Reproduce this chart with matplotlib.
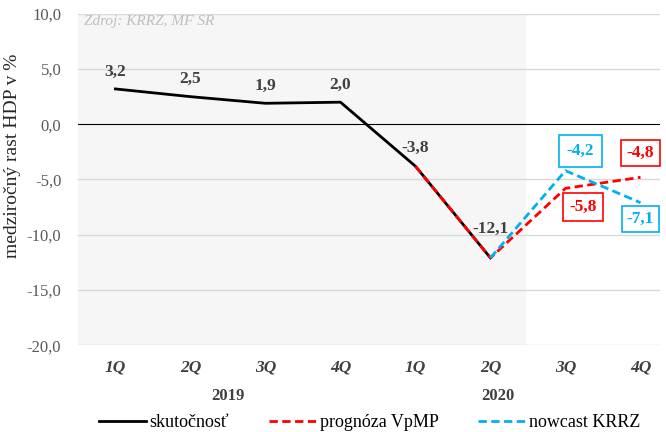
import matplotlib
matplotlib.use("Agg")
import matplotlib.pyplot as plt
from matplotlib.lines import Line2D

plt.rcParams['font.family'] = ['Liberation Serif', 'DejaVu Serif']

quarters = ["1Q", "2Q", "3Q", "4Q", "1Q", "2Q", "3Q", "4Q"]
years = ["2019", "2020"]
actual = [3.2, 2.5, 1.9, 2.0, -3.8, -12.1]
forecast_x = [4, 5, 6, 7]
forecast = [-3.8, -12.1, -5.8, -4.8]
nowcast_x = [5, 6, 7]
nowcast = [-12.1, -4.2, -7.1]

def fmt(v):
    return f"{v:.1f}".replace(".", ",")

fig = plt.figure(figsize=(6.66, 4.32), dpi=100)
ax = fig.add_axes([0.117, 0.201, 0.874, 0.767])

ax.set_xlim(-0.5, 7.26)
ax.set_ylim(-20, 10)
ax.axvspan(-0.5, 5.47, color="#f6f6f6", zorder=0, lw=0)

for y in [-20, -15, -10, -5, 5, 10]:
    ax.axhline(y, color="#d9d9d9", lw=1, zorder=1)
ax.axhline(0, color="black", lw=0.8, zorder=2)

ax.plot(range(len(actual)), actual, color="black", lw=2, zorder=3)
ax.plot(forecast_x, forecast, color="#ff0000", lw=2, ls=(0, (3, 1.6)), zorder=4)
ax.plot(nowcast_x, nowcast, color="#00b0f0", lw=2, ls=(0, (3, 1.6)), zorder=4)

dark = "#404040"
offs = [(0, 1.5), (0, 1.6), (0, 1.6), (0, 1.6), (0.0, 1.7), (0.0, 2.6)]
for i, v in enumerate(actual):
    dx, dy = offs[i]
    ax.text(i + dx, v + dy, fmt(v), ha="center", va="center", fontsize=12.5,
            fontweight="bold", color=dark, zorder=6)

def boxed(x, y, v, c, pad):
    ax.text(x, y, fmt(v), ha="center", va="center", fontsize=12.5, fontweight="bold",
            color=c, zorder=6,
            bbox=dict(boxstyle=f"square,pad={pad}", fc="white", ec=c, lw=1.2))

boxed(6.2, -2.4, -4.2, "#00b0f0", 0.45)
boxed(7.0, -2.6, -4.8, "#ff0000", 0.3)
boxed(6.23, -7.5, -5.8, "#ff0000", 0.35)
boxed(7.0, -8.6, -7.1, "#00b0f0", 0.3)

ax.text(-0.42, 9.3, "Zdroj: KRRZ, MF SR", ha="left", va="center", fontsize=11,
        style="italic", color="#bfbfbf", zorder=6)

ax.set_yticks([-20, -15, -10, -5, 0, 5, 10])
ax.set_yticklabels([fmt(v) for v in [-20, -15, -10, -5, 0, 5, 10]], fontsize=12, color="#595959")
ax.set_xticks(range(8))
ax.set_xticklabels(quarters, fontsize=12.5, style="italic", fontweight="bold", color=dark)
ax.tick_params(axis="both", length=0)
ax.tick_params(axis="x", pad=10)
ax.tick_params(axis="y", pad=12)
for s in ax.spines.values():
    s.set_visible(False)

ax.set_ylabel("medziročný rast HDP v %", fontsize=14, color="#262626")
ax.yaxis.set_label_coords(-0.098, 0.57)

ax.text(1.5, -24.6, years[0], ha="center", va="center", fontsize=12,
        fontweight="bold", color=dark)
ax.text(5.1, -24.6, years[1], ha="center", va="center", fontsize=12,
        fontweight="bold", color=dark)

handles = [Line2D([], [], color="black", lw=2),
           Line2D([], [], color="#ff0000", lw=2, ls=(0, (3, 1.6))),
           Line2D([], [], color="#00b0f0", lw=2, ls=(0, (3, 1.6)))]
fig.legend(handles, ["skutočnosť", "prognóza VpMP", "nowcast KRRZ"], loc="center",
           bbox_to_anchor=(0.555, 0.022), ncol=3, frameon=False, fontsize=13,
           handlelength=2.6, handletextpad=0.2, columnspacing=2.2)

fig.savefig("out.png", dpi=100)
